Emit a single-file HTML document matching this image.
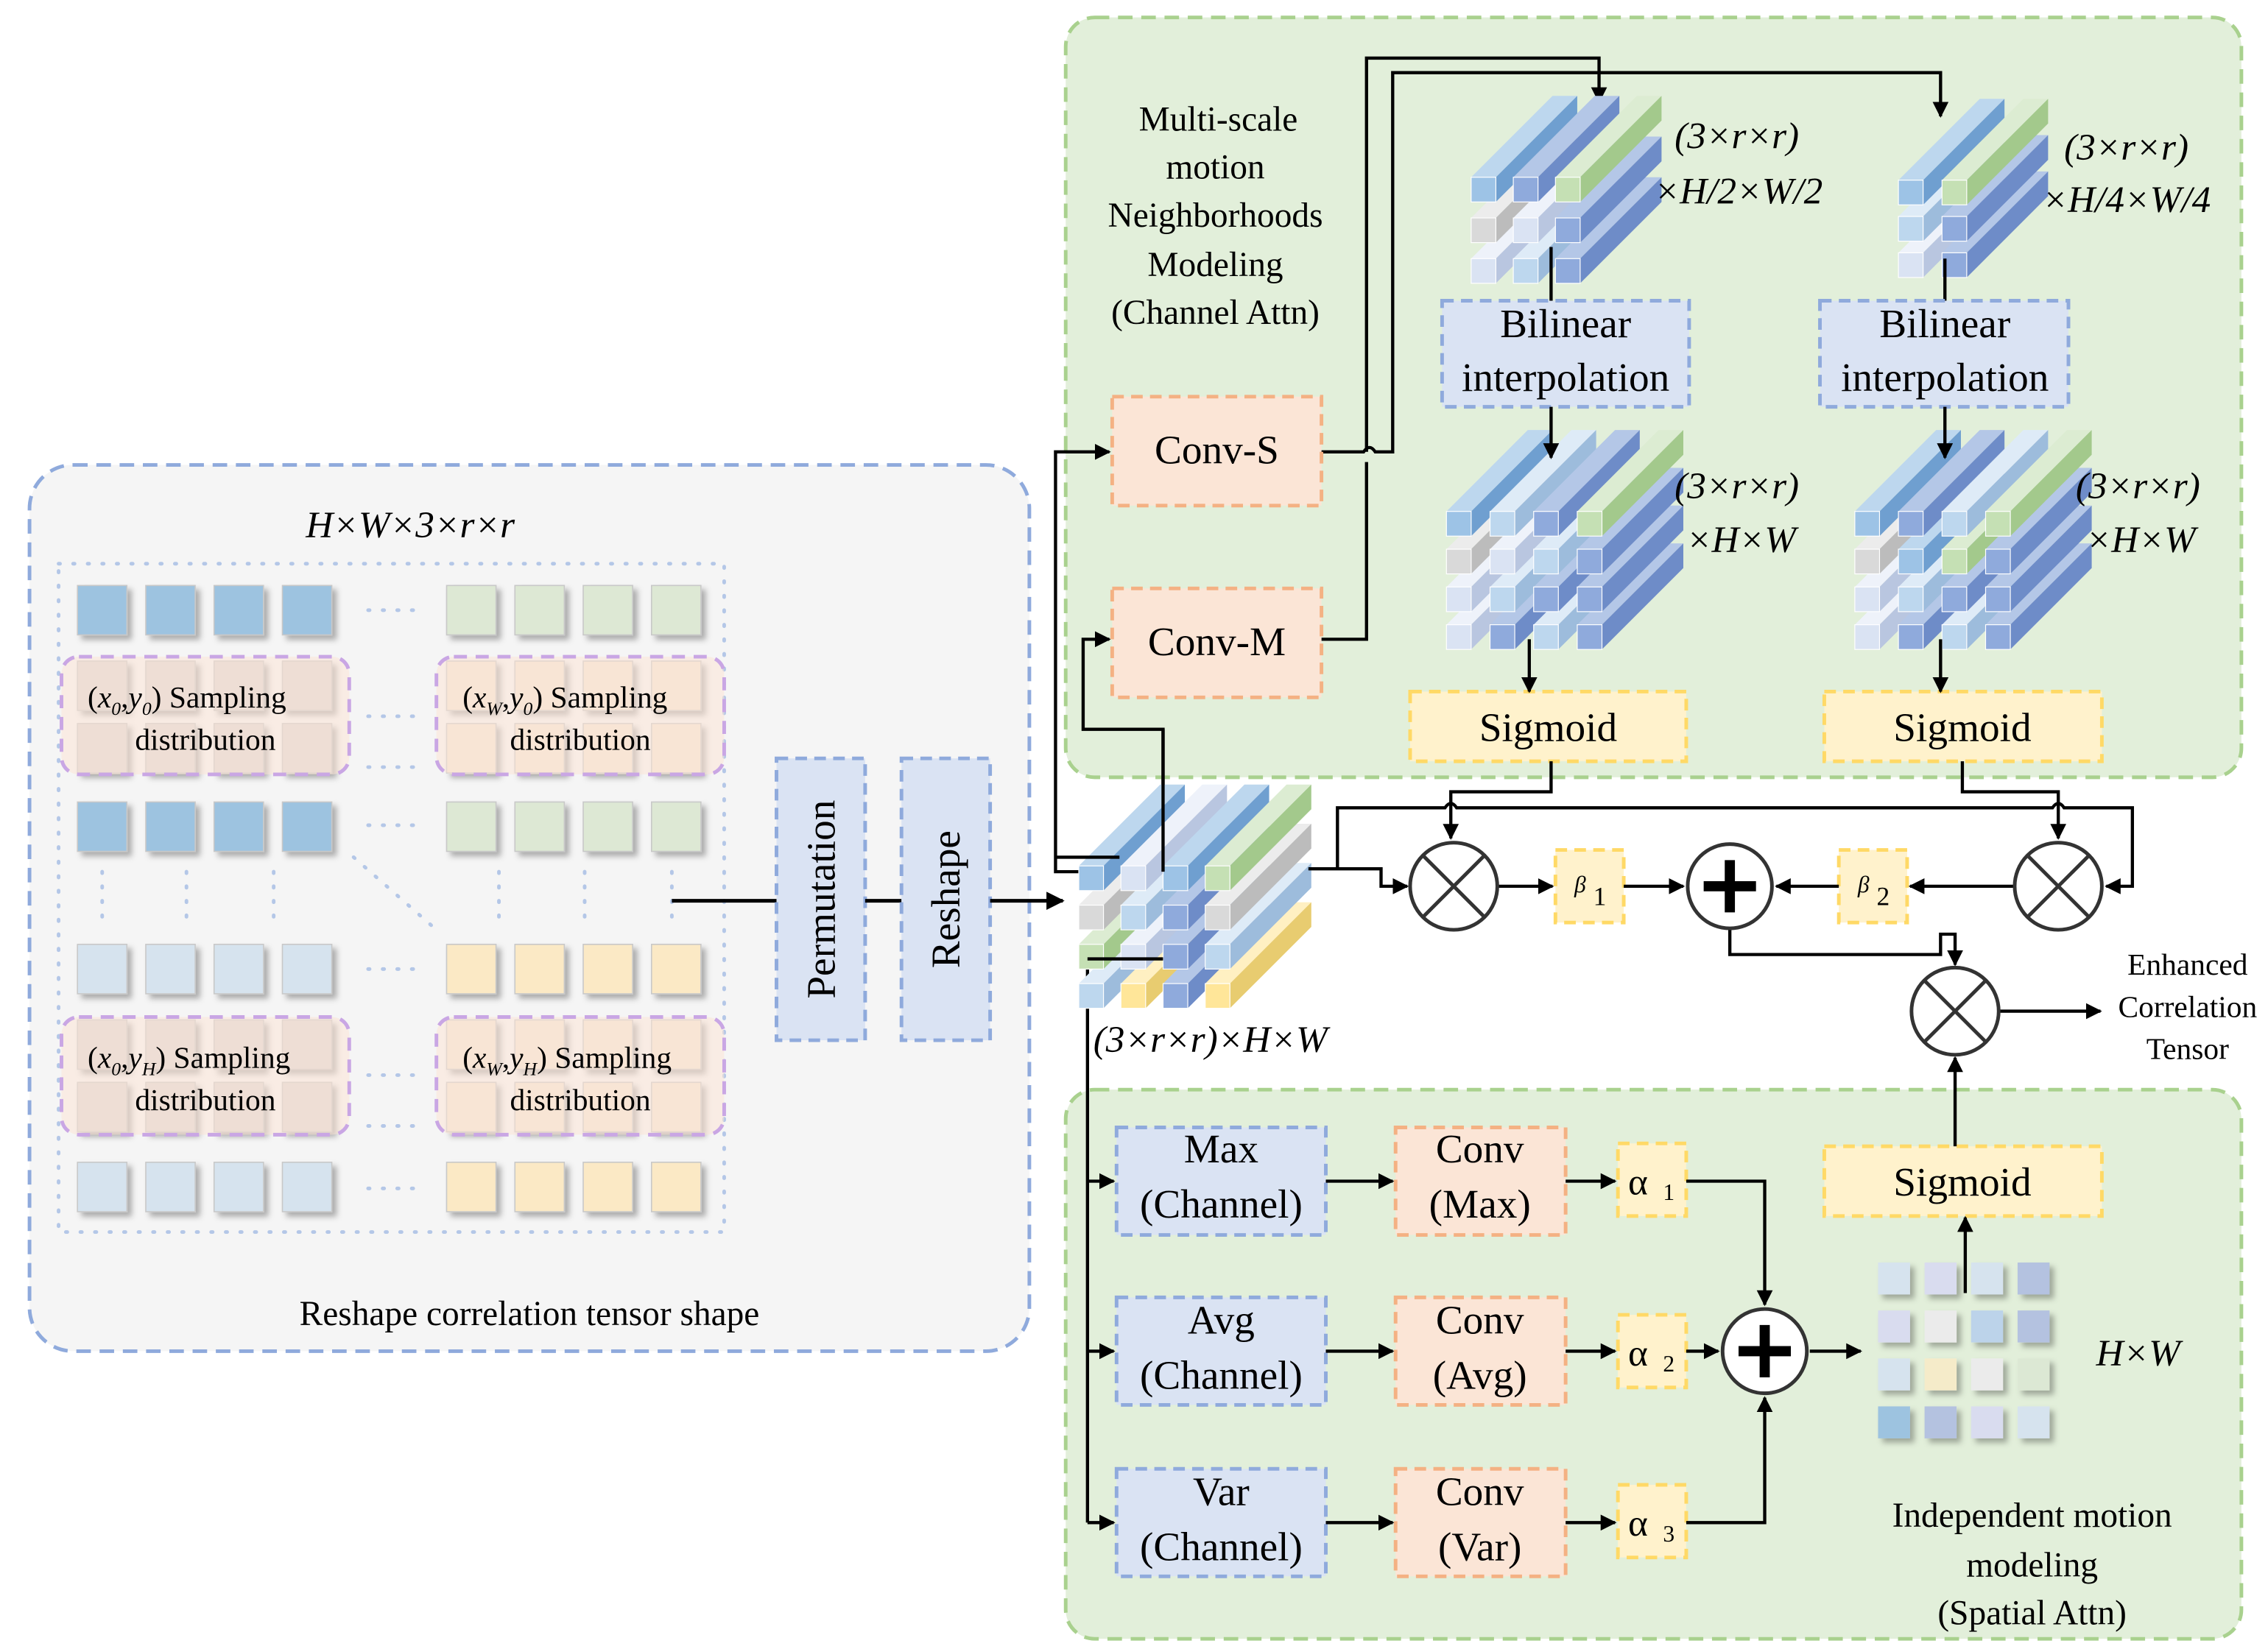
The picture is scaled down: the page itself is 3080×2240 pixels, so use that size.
<!DOCTYPE html>
<html><head><meta charset="utf-8">
<style>
html,body{margin:0;padding:0;background:#fff;}
svg{display:block;}
text{font-family:"Liberation Serif",serif;fill:#000;}
.it{font-style:italic;}
</style></head>
<body>
<svg width="3080" height="2240" viewBox="0 0 1560 1135" xmlns="http://www.w3.org/2000/svg" xmlns:xlink="http://www.w3.org/1999/xlink">
<defs>
<marker id="ar" viewBox="0 0 10 10" refX="9" refY="5" markerWidth="5" markerHeight="5" orient="auto"><path d="M0,0 L10,5 L0,10 z" fill="#000"/></marker>
<filter id="sh" x="-20%" y="-20%" width="160%" height="160%"><feDropShadow dx="3" dy="3" stdDeviation="2" flood-color="#000" flood-opacity="0.3"/></filter>
<g id="b0"><polygon points="0,0 56,-56 73,-56 17,0" fill="#bdd7ee"/><polygon points="17,0 73,-56 73,-39 17,17" fill="#6f9fd0"/><rect width="17" height="17" fill="#9dc3e6" stroke="#fff" stroke-width="0.6"/></g>
<g id="b1"><polygon points="0,0 56,-56 73,-56 17,0" fill="#b4c7e7"/><polygon points="17,0 73,-56 73,-39 17,17" fill="#6e8cc8"/><rect width="17" height="17" fill="#8faadc" stroke="#fff" stroke-width="0.6"/></g>
<g id="b2"><polygon points="0,0 56,-56 73,-56 17,0" fill="#eef2fa"/><polygon points="17,0 73,-56 73,-39 17,17" fill="#b9c6e0"/><rect width="17" height="17" fill="#dae3f3" stroke="#fff" stroke-width="0.6"/></g>
<g id="b3"><polygon points="0,0 56,-56 73,-56 17,0" fill="#dcecd2"/><polygon points="17,0 73,-56 73,-39 17,17" fill="#a3c98c"/><rect width="17" height="17" fill="#c5e0b4" stroke="#fff" stroke-width="0.6"/></g>
<g id="b4"><polygon points="0,0 56,-56 73,-56 17,0" fill="#ececec"/><polygon points="17,0 73,-56 73,-39 17,17" fill="#bcbcbc"/><rect width="17" height="17" fill="#d9d9d9" stroke="#fff" stroke-width="0.6"/></g>
<g id="b5"><polygon points="0,0 56,-56 73,-56 17,0" fill="#fff0c2"/><polygon points="17,0 73,-56 73,-39 17,17" fill="#e8cc70"/><rect width="17" height="17" fill="#ffe699" stroke="#fff" stroke-width="0.6"/></g>
<g id="b6"><polygon points="0,0 56,-56 73,-56 17,0" fill="#deebf7"/><polygon points="17,0 73,-56 73,-39 17,17" fill="#9dbcdc"/><rect width="17" height="17" fill="#bdd7ee" stroke="#fff" stroke-width="0.6"/></g>
</defs>
<!-- left panel -->
<rect x="20" y="320" width="688" height="610" rx="30" fill="#f5f5f5" stroke="#8faadc" stroke-width="2.5" stroke-dasharray="10,6"/>
<text x="282" y="370" font-size="26" text-anchor="middle" class="it">H×W×3×r×r</text>
<rect x="40" y="388" width="458" height="460" fill="none" stroke="#b4c7e7" stroke-width="2.5" stroke-dasharray="1,9" stroke-linecap="round"/>
<g stroke="#b4c7e7" stroke-width="2.5" stroke-dasharray="1,9" stroke-linecap="round" fill="none">
<path d="M253,420 H290 M253,493 H290 M253,528 H290 M253,568 H290 M253,667 H290 M253,740 H290 M253,775 H290 M253,818 H290"/>
<path d="M70,600 V640 M128,600 V640 M188,600 V640 M343,600 V640 M402,600 V640 M462,600 V640 M243,590 L300,640"/>
</g>
<g filter="url(#sh)" stroke="#c8c8c8" stroke-width="0.8">
<g fill="#9dc3e0"><rect x="53" y="403" width="34" height="34"/><rect x="100" y="403" width="34" height="34"/><rect x="147" y="403" width="34" height="34"/><rect x="194" y="403" width="34" height="34"/>
<rect x="53" y="552" width="34" height="34"/><rect x="100" y="552" width="34" height="34"/><rect x="147" y="552" width="34" height="34"/><rect x="194" y="552" width="34" height="34"/></g>
<g fill="#dde8d4"><rect x="307" y="403" width="34" height="34"/><rect x="354" y="403" width="34" height="34"/><rect x="401" y="403" width="34" height="34"/><rect x="448" y="403" width="34" height="34"/>
<rect x="307" y="552" width="34" height="34"/><rect x="354" y="552" width="34" height="34"/><rect x="401" y="552" width="34" height="34"/><rect x="448" y="552" width="34" height="34"/></g>
<g fill="#d6e3ee"><rect x="53" y="650" width="34" height="34"/><rect x="100" y="650" width="34" height="34"/><rect x="147" y="650" width="34" height="34"/><rect x="194" y="650" width="34" height="34"/>
<rect x="53" y="800" width="34" height="34"/><rect x="100" y="800" width="34" height="34"/><rect x="147" y="800" width="34" height="34"/><rect x="194" y="800" width="34" height="34"/></g>
<g fill="#fbe9c5"><rect x="307" y="650" width="34" height="34"/><rect x="354" y="650" width="34" height="34"/><rect x="401" y="650" width="34" height="34"/><rect x="448" y="650" width="34" height="34"/>
<rect x="307" y="800" width="34" height="34"/><rect x="354" y="800" width="34" height="34"/><rect x="401" y="800" width="34" height="34"/><rect x="448" y="800" width="34" height="34"/></g>
<g fill="#ddd8d4"><rect x="53" y="455" width="34" height="34"/><rect x="100" y="455" width="34" height="34"/><rect x="147" y="455" width="34" height="34"/><rect x="194" y="455" width="34" height="34"/>
<rect x="53" y="498" width="34" height="34"/><rect x="100" y="498" width="34" height="34"/><rect x="147" y="498" width="34" height="34"/><rect x="194" y="498" width="34" height="34"/>
<rect x="53" y="702" width="34" height="34"/><rect x="100" y="702" width="34" height="34"/><rect x="147" y="702" width="34" height="34"/><rect x="194" y="702" width="34" height="34"/>
<rect x="53" y="745" width="34" height="34"/><rect x="100" y="745" width="34" height="34"/><rect x="147" y="745" width="34" height="34"/><rect x="194" y="745" width="34" height="34"/></g>
<g fill="#f3e6d6"><rect x="307" y="455" width="34" height="34"/><rect x="354" y="455" width="34" height="34"/><rect x="401" y="455" width="34" height="34"/><rect x="448" y="455" width="34" height="34"/>
<rect x="307" y="498" width="34" height="34"/><rect x="354" y="498" width="34" height="34"/><rect x="401" y="498" width="34" height="34"/><rect x="448" y="498" width="34" height="34"/>
<rect x="307" y="702" width="34" height="34"/><rect x="354" y="702" width="34" height="34"/><rect x="401" y="702" width="34" height="34"/><rect x="448" y="702" width="34" height="34"/>
<rect x="307" y="745" width="34" height="34"/><rect x="354" y="745" width="34" height="34"/><rect x="401" y="745" width="34" height="34"/><rect x="448" y="745" width="34" height="34"/></g>
</g>
<g fill="#fce4d6" fill-opacity="0.55" stroke="#c9a6e4" stroke-width="2.5" stroke-dasharray="9,6">
<rect x="42" y="452" width="198" height="81" rx="12"/><rect x="300" y="452" width="198" height="81" rx="12"/>
<rect x="42" y="700" width="198" height="81" rx="12"/><rect x="300" y="700" width="198" height="81" rx="12"/>
</g>
<g font-size="21">
<text x="60" y="487">(<tspan class="it">x</tspan><tspan font-size="13" dy="5" class="it">0</tspan><tspan dy="-5">,</tspan><tspan class="it">y</tspan><tspan font-size="13" dy="5" class="it">0</tspan><tspan dy="-5">)  Sampling</tspan></text>
<text x="318" y="487">(<tspan class="it">x</tspan><tspan font-size="13" dy="5" class="it">W</tspan><tspan dy="-5">,</tspan><tspan class="it">y</tspan><tspan font-size="13" dy="5" class="it">0</tspan><tspan dy="-5">)  Sampling</tspan></text>
<text x="60" y="735">(<tspan class="it">x</tspan><tspan font-size="13" dy="5" class="it">0</tspan><tspan dy="-5">,</tspan><tspan class="it">y</tspan><tspan font-size="13" dy="5" class="it">H</tspan><tspan dy="-5">)  Sampling</tspan></text>
<text x="318" y="735">(<tspan class="it">x</tspan><tspan font-size="13" dy="5" class="it">W</tspan><tspan dy="-5">,</tspan><tspan class="it">y</tspan><tspan font-size="13" dy="5" class="it">H</tspan><tspan dy="-5">)  Sampling</tspan></text>
<g text-anchor="middle"><text x="141" y="516">distribution</text><text x="399" y="516">distribution</text><text x="141" y="764">distribution</text><text x="399" y="764">distribution</text></g>
</g>
<text x="364" y="912" font-size="24" text-anchor="middle">Reshape correlation tensor shape</text>
<!-- Permutation / Reshape -->
<line x1="462" y1="620" x2="535" y2="620" stroke="#000" stroke-width="2.5"/>
<rect x="534" y="522" width="61" height="194" fill="#dae3f3" stroke="#8faadc" stroke-width="2.5" stroke-dasharray="8,5"/>
<text transform="translate(574,619) rotate(-90)" font-size="28" text-anchor="middle">Permutation</text>
<line x1="595" y1="620" x2="620" y2="620" stroke="#000" stroke-width="2.5"/>
<rect x="620" y="522" width="61" height="194" fill="#dae3f3" stroke="#8faadc" stroke-width="2.5" stroke-dasharray="8,5"/>
<text transform="translate(660,619) rotate(-90)" font-size="28" text-anchor="middle">Reshape</text>
<line x1="681" y1="620" x2="731" y2="620" stroke="#000" stroke-width="2.5" marker-end="url(#ar)"/>
<!-- top panel -->
<rect x="733" y="12" width="809" height="523" rx="20" fill="#e2efda" stroke="#a9d18e" stroke-width="2.5" stroke-dasharray="10,6"/>
<g font-size="24" text-anchor="middle">
<text x="838" y="90">Multi-scale</text><text x="836" y="123">motion</text><text x="836" y="156">Neighborhoods</text><text x="836" y="190">Modeling</text><text x="836" y="223">(Channel Attn)</text>
</g>
<rect x="733" y="750" width="809" height="378" rx="20" fill="#e2efda" stroke="#a9d18e" stroke-width="2.5" stroke-dasharray="10,6"/>
<!-- connectors under cubes -->
<g stroke="#000" stroke-width="2.2" fill="none">
<path d="M909,311 H938 Q942,305 946,311 H958 V50 H1335 V80" marker-end="url(#ar)"/>
<path d="M940,311 V40 H1100 V70" marker-end="url(#ar)"/>
<path d="M909,440 H940 V318"/>
<path d="M800,600 V502 H745 V440 H763" marker-end="url(#ar)"/>
<path d="M770,600 H726 V311 H763" marker-end="url(#ar)"/>
<path d="M800,660 H748 V1048"/>
</g>
<!-- cubes -->
<g>
<use xlink:href="#b6" x="742" y="677"/><use xlink:href="#b5" x="771" y="677"/><use xlink:href="#b1" x="800" y="677"/><use xlink:href="#b5" x="829" y="677"/>
<use xlink:href="#b3" x="742" y="650"/><use xlink:href="#b2" x="771" y="650"/><use xlink:href="#b1" x="800" y="650"/><use xlink:href="#b6" x="829" y="650"/>
<use xlink:href="#b4" x="742" y="623"/><use xlink:href="#b6" x="771" y="623"/><use xlink:href="#b1" x="800" y="623"/><use xlink:href="#b4" x="829" y="623"/>
<use xlink:href="#b0" x="742" y="596"/><use xlink:href="#b2" x="771" y="596"/><use xlink:href="#b0" x="800" y="596"/><use xlink:href="#b3" x="829" y="596"/>

<use xlink:href="#b2" x="1012" y="178"/><use xlink:href="#b6" x="1041" y="178"/><use xlink:href="#b1" x="1070" y="178"/>
<use xlink:href="#b4" x="1012" y="150"/><use xlink:href="#b2" x="1041" y="150"/><use xlink:href="#b1" x="1070" y="150"/>
<use xlink:href="#b0" x="1012" y="122"/><use xlink:href="#b1" x="1041" y="122"/><use xlink:href="#b3" x="1070" y="122"/>

<use xlink:href="#b2" x="1306" y="174"/><use xlink:href="#b1" x="1336" y="174"/>
<use xlink:href="#b6" x="1306" y="149"/><use xlink:href="#b1" x="1336" y="149"/>
<use xlink:href="#b0" x="1306" y="124"/><use xlink:href="#b3" x="1336" y="124"/>

<use xlink:href="#b2" x="995" y="430"/><use xlink:href="#b1" x="1025" y="430"/><use xlink:href="#b6" x="1055" y="430"/><use xlink:href="#b1" x="1085" y="430"/>
<use xlink:href="#b2" x="995" y="404"/><use xlink:href="#b6" x="1025" y="404"/><use xlink:href="#b1" x="1055" y="404"/><use xlink:href="#b1" x="1085" y="404"/>
<use xlink:href="#b4" x="995" y="378"/><use xlink:href="#b2" x="1025" y="378"/><use xlink:href="#b6" x="1055" y="378"/><use xlink:href="#b1" x="1085" y="378"/>
<use xlink:href="#b0" x="995" y="352"/><use xlink:href="#b6" x="1025" y="352"/><use xlink:href="#b1" x="1055" y="352"/><use xlink:href="#b3" x="1085" y="352"/>

<use xlink:href="#b2" x="1276" y="430"/><use xlink:href="#b1" x="1306" y="430"/><use xlink:href="#b6" x="1336" y="430"/><use xlink:href="#b1" x="1366" y="430"/>
<use xlink:href="#b2" x="1276" y="404"/><use xlink:href="#b6" x="1306" y="404"/><use xlink:href="#b1" x="1336" y="404"/><use xlink:href="#b1" x="1366" y="404"/>
<use xlink:href="#b4" x="1276" y="378"/><use xlink:href="#b0" x="1306" y="378"/><use xlink:href="#b3" x="1336" y="378"/><use xlink:href="#b1" x="1366" y="378"/>
<use xlink:href="#b0" x="1276" y="352"/><use xlink:href="#b1" x="1306" y="352"/><use xlink:href="#b6" x="1336" y="352"/><use xlink:href="#b3" x="1366" y="352"/>
</g>
<!-- lines over cubes -->
<g stroke="#000" stroke-width="2.2" fill="none">
<path d="M726,590 H770"/><path d="M800,502 V600"/><path d="M748,660 H800"/>
<path d="M1067,170 V207"/><path d="M1338,178 V207"/>
</g>
<!-- grid -->
<g filter="url(#sh)">
<rect x="1292" y="869" width="22" height="22" fill="#d6e3ee"/><rect x="1324" y="869" width="22" height="22" fill="#d9dcef"/><rect x="1356" y="869" width="22" height="22" fill="#d6e3ee"/><rect x="1388" y="869" width="22" height="22" fill="#b4c2e0"/>
<rect x="1292" y="902" width="22" height="22" fill="#d9dcef"/><rect x="1324" y="902" width="22" height="22" fill="#ebebeb"/><rect x="1356" y="902" width="22" height="22" fill="#bcd3ea"/><rect x="1388" y="902" width="22" height="22" fill="#b4c2e0"/>
<rect x="1292" y="935" width="22" height="22" fill="#d6e3ee"/><rect x="1324" y="935" width="22" height="22" fill="#f5ebc9"/><rect x="1356" y="935" width="22" height="22" fill="#ebebeb"/><rect x="1388" y="935" width="22" height="22" fill="#dce8d4"/>
<rect x="1292" y="968" width="22" height="22" fill="#9dc3e0"/><rect x="1324" y="968" width="22" height="22" fill="#b4c2e0"/><rect x="1356" y="968" width="22" height="22" fill="#d9dcef"/><rect x="1388" y="968" width="22" height="22" fill="#d6e3ee"/>
</g>
<!-- boxes -->
<g stroke-width="2.5" stroke-dasharray="8,5">
<rect x="765" y="273" width="144" height="75" fill="#fbe5d6" stroke="#f4b183"/>
<rect x="765" y="405" width="144" height="75" fill="#fbe5d6" stroke="#f4b183"/>
<rect x="992" y="207" width="170" height="73" fill="#dae3f3" stroke="#8faadc"/>
<rect x="1252" y="207" width="171" height="73" fill="#dae3f3" stroke="#8faadc"/>
<rect x="970" y="476" width="190" height="48" fill="#fff2cc" stroke="#ffd966"/>
<rect x="1255" y="476" width="191" height="48" fill="#fff2cc" stroke="#ffd966"/>
<rect x="1070" y="585" width="47" height="50" fill="#fff2cc" stroke="#ffd966"/>
<rect x="1265" y="585" width="47" height="50" fill="#fff2cc" stroke="#ffd966"/>
<rect x="768" y="776" width="144" height="74" fill="#dae3f3" stroke="#8faadc"/>
<rect x="768" y="893" width="144" height="74" fill="#dae3f3" stroke="#8faadc"/>
<rect x="768" y="1011" width="144" height="74" fill="#dae3f3" stroke="#8faadc"/>
<rect x="960" y="776" width="117" height="74" fill="#fbe5d6" stroke="#f4b183"/>
<rect x="960" y="893" width="117" height="74" fill="#fbe5d6" stroke="#f4b183"/>
<rect x="960" y="1011" width="117" height="74" fill="#fbe5d6" stroke="#f4b183"/>
<rect x="1113" y="787" width="47" height="50" fill="#fff2cc" stroke="#ffd966"/>
<rect x="1113" y="905" width="47" height="50" fill="#fff2cc" stroke="#ffd966"/>
<rect x="1113" y="1022" width="47" height="50" fill="#fff2cc" stroke="#ffd966"/>
<rect x="1255" y="789" width="191" height="48" fill="#fff2cc" stroke="#ffd966"/>
</g>
<g font-size="28" text-anchor="middle">
<text x="837" y="319">Conv-S</text><text x="837" y="451">Conv-M</text>
<text x="1077" y="232">Bilinear</text><text x="1077" y="269">interpolation</text>
<text x="1338" y="232">Bilinear</text><text x="1338" y="269">interpolation</text>
<text x="1065" y="510">Sigmoid</text><text x="1350" y="510">Sigmoid</text><text x="1350" y="823">Sigmoid</text>
<text x="840" y="800">Max</text><text x="840" y="838">(Channel)</text>
<text x="840" y="918">Avg</text><text x="840" y="956">(Channel)</text>
<text x="840" y="1036">Var</text><text x="840" y="1074">(Channel)</text>
<text x="1018" y="800">Conv</text><text x="1018" y="838">(Max)</text>
<text x="1018" y="918">Conv</text><text x="1018" y="956">(Avg)</text>
<text x="1018" y="1036">Conv</text><text x="1018" y="1074">(Var)</text>
</g>
<g font-size="26">
<text x="1120" y="822">α</text><text x="1144" y="826" font-size="16">1</text>
<text x="1120" y="940">α</text><text x="1144" y="944" font-size="16">2</text>
<text x="1120" y="1057">α</text><text x="1144" y="1061" font-size="16">3</text>
<text x="1083" y="614" font-size="16" class="it">β</text><text x="1096" y="623" font-size="18">1</text>
<text x="1278" y="614" font-size="16" class="it">β</text><text x="1291" y="623" font-size="18">2</text>
</g>
<g font-size="26" class="it">
<text x="1152" y="102">(3×r×r)</text><text x="1138" y="140">×H/2×W/2</text>
<text x="1420" y="110">(3×r×r)</text><text x="1405" y="146">×H/4×W/4</text>
<text x="1152" y="343">(3×r×r)</text><text x="1160" y="380">×H×W</text>
<text x="1428" y="343">(3×r×r)</text><text x="1435" y="380">×H×W</text>
<text x="752" y="724">(3×r×r)×H×W</text>
<text x="1442" y="940">H×W</text>
</g>
<g font-size="21" text-anchor="middle">
<text x="1505" y="671">Enhanced</text><text x="1505" y="700">Correlation</text><text x="1505" y="729">Tensor</text>
</g>
<g font-size="24" text-anchor="middle">
<text x="1398" y="1051">Independent motion</text><text x="1398" y="1085">modeling</text><text x="1398" y="1118">(Spatial Attn)</text>
</g>
<g stroke="#000" stroke-width="2.2" fill="none">
<path d="M1067,280 V315" marker-end="url(#ar)"/><path d="M1338,280 V315" marker-end="url(#ar)"/>
<path d="M1052,440 V476" marker-end="url(#ar)"/><path d="M1335,440 V476" marker-end="url(#ar)"/>
<path d="M1067,524 V545 H998 V577" marker-end="url(#ar)"/>
<path d="M1350,524 V545 H1416 V577" marker-end="url(#ar)"/>
<path d="M920,598 V556 H994 Q998,550 1002,556 H1412 Q1416,550 1420,556 H1467 V610 H1449" marker-end="url(#ar)"/>
<path d="M900,598 H950 V610 H968" marker-end="url(#ar)"/>
<path d="M1030,610 H1068" marker-end="url(#ar)"/>
<path d="M1117,610 H1158" marker-end="url(#ar)"/>
<path d="M1265,610 H1222" marker-end="url(#ar)"/>
<path d="M1386,610 H1314" marker-end="url(#ar)"/>
<path d="M1190,640 V657 H1335 V643 H1345 V664" marker-end="url(#ar)"/>
<path d="M1376,696 H1445" marker-end="url(#ar)"/>
<path d="M1345,789 V728" marker-end="url(#ar)"/>
<path d="M1352,890 V838" marker-end="url(#ar)"/>
<path d="M748,813 H766" marker-end="url(#ar)"/><path d="M748,930 H766" marker-end="url(#ar)"/><path d="M748,1048 H766" marker-end="url(#ar)"/>
<path d="M912,813 H958" marker-end="url(#ar)"/><path d="M912,930 H958" marker-end="url(#ar)"/><path d="M912,1048 H958" marker-end="url(#ar)"/>
<path d="M1077,813 H1111" marker-end="url(#ar)"/><path d="M1077,930 H1111" marker-end="url(#ar)"/><path d="M1077,1048 H1111" marker-end="url(#ar)"/>
<path d="M1160,813 H1214 V898" marker-end="url(#ar)"/>
<path d="M1160,930 H1182" marker-end="url(#ar)"/>
<path d="M1160,1048 H1214 V962" marker-end="url(#ar)"/>
<path d="M1245,930 H1280" marker-end="url(#ar)"/>
</g>
<g stroke="#333" stroke-width="2.5" fill="#fff">
<circle cx="1000" cy="610" r="30"/><circle cx="1416" cy="610" r="30"/><circle cx="1345" cy="696" r="30"/>
<circle cx="1190" cy="610" r="29"/><circle cx="1214" cy="930" r="29"/>
</g>
<g stroke="#333" stroke-width="2.5">
<path d="M979,589 L1021,631 M1021,589 L979,631"/><path d="M1395,589 L1437,631 M1437,589 L1395,631"/><path d="M1324,675 L1366,717 M1366,675 L1324,717"/>
</g>
<g stroke="#000" stroke-width="7">
<path d="M1172,610 H1208 M1190,592 V628"/><path d="M1196,930 H1232 M1214,912 V948"/>
</g>
</svg>
</body></html>
